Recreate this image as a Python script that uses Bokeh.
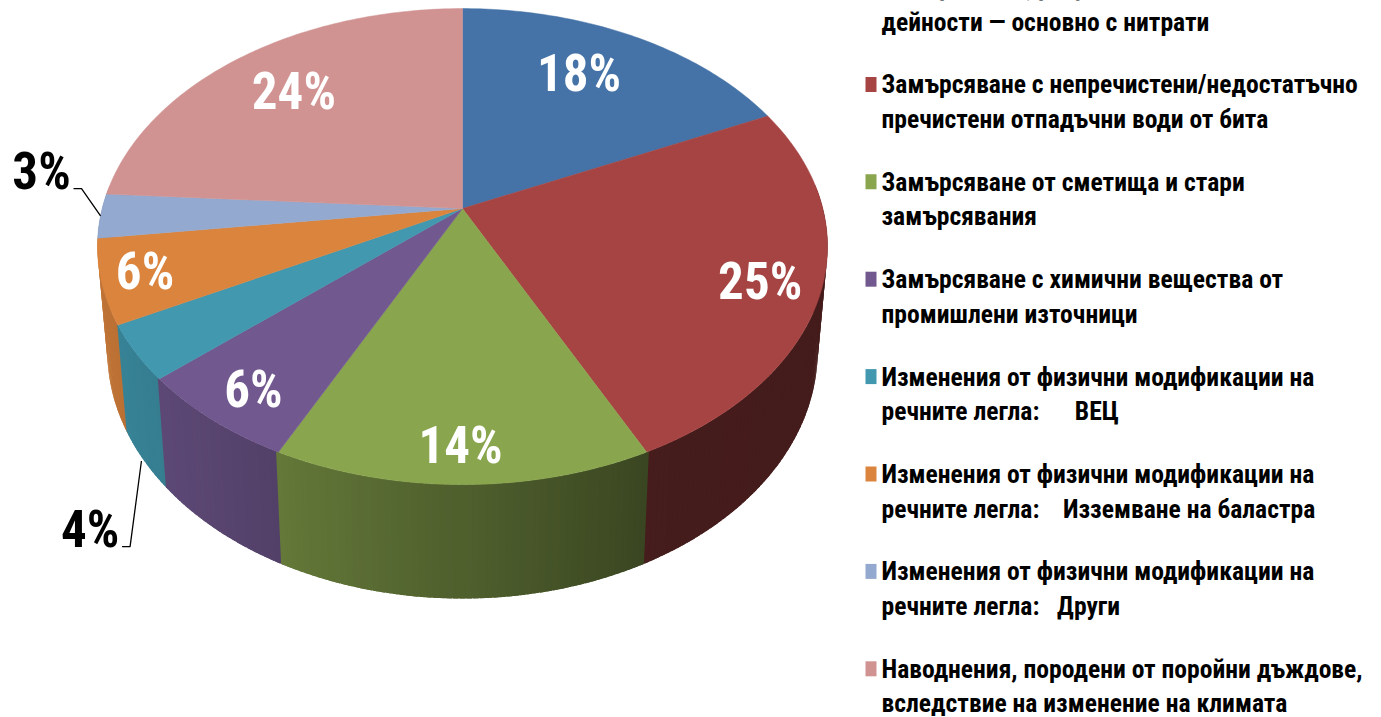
import numpy as np
from bokeh.embed import file_html
from bokeh.resources import INLINE
from bokeh.models import Range1d
from bokeh.plotting import figure
from bokeh.core.properties import value

# ---------- data ----------
categories = [
    "Замърсяване, резултат от селскостопански\nдейности — основно с нитрати",
    "Замърсяване с непречистени/недостатъчно\nпречистени отпадъчни води от бита",
    "Замърсяване от сметища и стари\nзамърсявания",
    "Замърсяване с химични вещества от\nпромишлени източници",
    "Изменения от физични модификации на\nречните легла:\u00a0\u00a0\u00a0\u00a0\u00a0\u00a0ВЕЦ",
    "Изменения от физични модификации на\nречните легла:\u00a0\u00a0\u00a0\u00a0Изземване на баластра",
    "Изменения от физични модификации на\nречните легла:\u00a0\u00a0\u00a0Други",
    "Наводнения, породени от поройни дъждове,\nвследствие на изменение на климата",
]
shares = [18, 25, 14, 6, 4, 6, 3, 24]
colors = ["#4572A7", "#A54442", "#89A54E", "#71588F", "#4198AF", "#DB843D", "#93A9CF", "#D19392"]

# ---------- layout (page pixels) ----------
W, H = 1381, 717
CX, CY = 462, 208
PERSP, AX, BY = 0.16, 360.3, 231.9      # perspective projection of the disc
BOT_SX, BOT_SY, BOT_Y = 0.973, 1.04, 311  # lower rim relative to upper rim
FRONT_STRETCH = 0.0058                  # the 3-D view widens the front sectors slightly
LABEL_R = 0.7
label_nudge = [(-7, -10), (51, 16), (-2, 54), (-46, 37), (-154, 219), (-69, 11), (-168, -42), (-9, -8)]
label_color = ["white", "white", "white", "white", "black", "white", "black", "white"]
FONT = "Roboto Condensed"


def warp(t):
    t = np.asarray(t, dtype=float)
    s = np.sin(4 * np.pi * (t - 0.5))
    return t + np.where((t > 0.25) & (t < 0.75), FRONT_STRETCH * s * np.abs(s) ** 3, 0.0)


def project(theta, r=1.0):
    X, Y = np.sin(theta) * r, -np.cos(theta) * r
    w = 1 - PERSP * Y
    return CX + AX * X / w, CY + BY * Y / w


def lower(x, y):
    return CX + (x - CX) * BOT_SX, BOT_Y + (y - CY) * BOT_SY


def shade(hex_color, f):
    rgb = [int(hex_color[i:i + 2], 16) for i in (1, 3, 5)]
    return "#%02x%02x%02x" % tuple(int(round(c * f)) for c in rgb)


p = figure(width=W, height=H, output_backend="svg", toolbar_location=None,
           x_range=Range1d(0, W), y_range=Range1d(H, 0),
           min_border=0, outline_line_color=None)
p.axis.visible = False
p.grid.visible = False
p.background_fill_color = "white"

fractions = np.cumsum([0] + shares) / sum(shares)
plain_edges = fractions * 2 * np.pi
edges = warp(fractions) * 2 * np.pi

# walls
quads = []
for i, col in enumerate(colors):
    n = max(4, shares[i] * 4)
    th = np.linspace(edges[i], edges[i + 1], n + 1)
    step = th[1] - th[0]
    for a, b in zip(th[:-1], th[1:]):
        xa, ya = project(a - 0.4 * step)
        xb, yb = project(b + 0.4 * step)
        xa2, ya2 = lower(xa, ya)
        xb2, yb2 = lower(xb, yb)
        m = np.sin((a + b) / 2)
        f = np.interp(m, [-1, -0.85, -0.5, 0.45, 1], [0.88, 0.85, 0.75, 0.42, 0.41])
        quads.append((-np.cos((a + b) / 2), [xa, xb, xb2, xa2], [ya, yb, yb2, ya2], shade(col, f)))
quads.sort(key=lambda q: q[0])
quads = [q for q in quads if q[0] > -0.1]
p.patches([q[1] for q in quads], [q[2] for q in quads],
          fill_color=[q[3] for q in quads], line_color=None)

# top faces
for i, col in enumerate(colors):
    th = np.linspace(edges[i], edges[i + 1], 80)
    x, y = project(th)
    p.patch([CX, *x], [CY, *y], fill_color=col, line_color=col, line_width=0.5)

# value labels and leaders
mids = (plain_edges[:-1] + plain_edges[1:]) / 2
for i, s in enumerate(shares):
    bx, by = project(mids[i], LABEL_R)
    lx, ly = bx + label_nudge[i][0], by + label_nudge[i][1]
    p.text([lx], [ly], text=[f"{s}%"], text_color=label_color[i], text_align="center",
           text_baseline="middle", text_font=value(FONT), text_font_style="bold",
           text_font_size="51px")
    if label_color[i] == "black":
        ex, ey = project(mids[i])
        if s == 4:
            ex, ey = lower(ex, ey)
            ex, ey = ex - 8, ey - 7
        p.line([lx + 32, lx + 40, ex], [ly + 17, ly + 17, ey], line_color="black", line_width=1.3)

# legend
ROW0, ROW_STEP, LINE_STEP = -13.5, 97.4, 34.5
for i, (name, col) in enumerate(zip(categories, colors)):
    y0 = ROW0 + i * ROW_STEP
    p.quad(left=[865], right=[876], top=[y0 - 7.5], bottom=[y0 + 7.5], fill_color=col, line_color=None)
    for j, line in enumerate(name.split("\n")):
        p.text([881], [y0 + j * LINE_STEP], text=[line], text_color="black", text_align="left",
               text_baseline="middle", text_font=value(FONT), text_font_style="bold",
               text_font_size="25.6px")

open("out.html", "w").write(file_html(p, INLINE))
